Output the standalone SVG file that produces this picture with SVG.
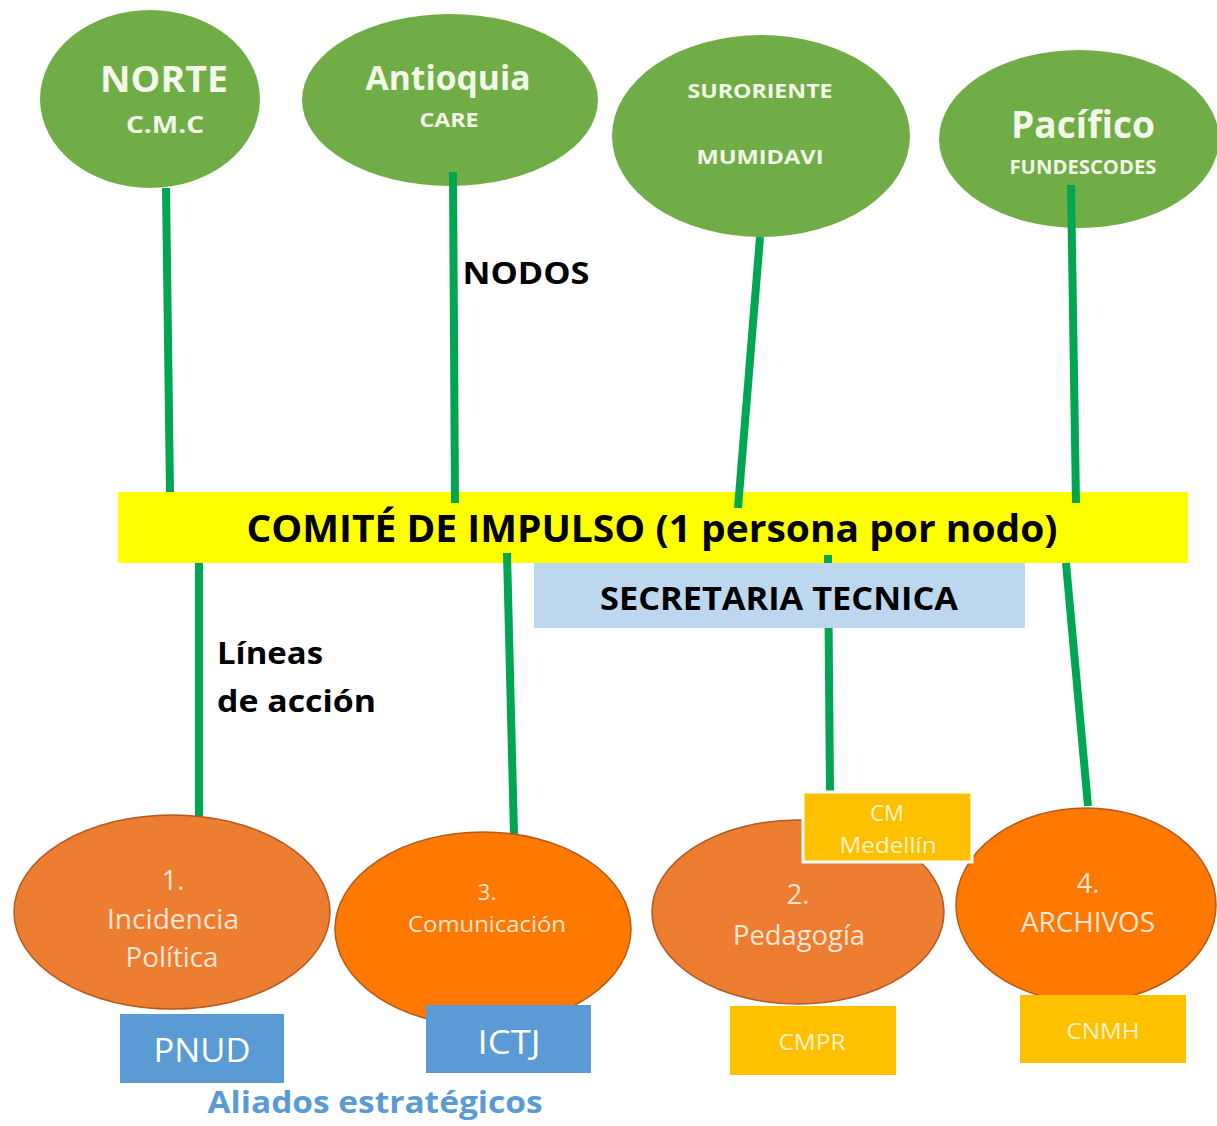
<svg xmlns="http://www.w3.org/2000/svg" width="1217" height="1126" viewBox="0 0 1217 1126">
<defs>
<style>
text{font-family:"Open Sans","Noto Sans","Liberation Sans",sans-serif;text-anchor:middle}
.g{fill:#70ad47}
.gt{fill:#f2f9e8;font-weight:bold}
.con{stroke:#00a651;stroke-width:8;fill:none}
.o1{fill:#ed7d31;stroke:#b35a1f;stroke-width:1.5}
.o2{fill:#ff7800;stroke:#b35a1f;stroke-width:1.5}
.ot{fill:#fbe5d6}
.bl{fill:#5b9bd5}
.ye{fill:#ffc000}
.wt{fill:#ffffff}
.yt{fill:#fff2cc}
.bk{fill:#000000;font-weight:bold}
</style>
</defs>
<rect width="1217" height="1126" fill="#ffffff"/>

<g id="norte">
<ellipse class="g" cx="150" cy="99" rx="110" ry="89"/>
<text class="gt" x="164" y="92" font-size="36" textLength="128" lengthAdjust="spacingAndGlyphs">NORTE</text>
<text class="gt" x="165" y="133" font-size="24" textLength="78" lengthAdjust="spacingAndGlyphs">C.M.C</text>
</g>
<g id="antioquia">
<ellipse class="g" cx="450" cy="100" rx="148" ry="86"/>
<text class="gt" x="448" y="90" font-size="34" textLength="165" lengthAdjust="spacingAndGlyphs">Antioquia</text>
<text class="gt" x="449" y="127" font-size="20" textLength="59" lengthAdjust="spacingAndGlyphs">CARE</text>
</g>
<g id="suroriente">
<ellipse class="g" cx="761" cy="136" rx="149" ry="101"/>
<text class="gt" x="760" y="98" font-size="20" textLength="145" lengthAdjust="spacingAndGlyphs">SURORIENTE</text>
<text class="gt" x="760" y="164" font-size="20" textLength="127" lengthAdjust="spacingAndGlyphs">MUMIDAVI</text>
</g>
<g id="pacifico">
<ellipse class="g" cx="1079" cy="139" rx="140" ry="89"/>
<text class="gt" x="1083" y="138" font-size="38" textLength="144" lengthAdjust="spacingAndGlyphs">Pacífico</text>
<text class="gt" x="1083" y="174" font-size="19" textLength="147" lengthAdjust="spacingAndGlyphs">FUNDESCODES</text>
</g>

<g id="nodos-label">
<text class="bk" x="526" y="284" font-size="30" textLength="127" lengthAdjust="spacingAndGlyphs">NODOS</text>
</g>

<g id="comite">
<rect x="118" y="492" width="1070" height="71" fill="#ffff00"/>
<text class="bk" x="652" y="542" font-size="38" textLength="811" lengthAdjust="spacingAndGlyphs">COMITÉ DE IMPULSO (1 persona por nodo)</text>
</g>

<g id="connectors">
<line class="con" x1="166" y1="188" x2="170" y2="492"/>
<line class="con" x1="453" y1="172" x2="455" y2="503"/>
<line class="con" x1="760" y1="237" x2="738" y2="508"/>
<line class="con" x1="1071" y1="185" x2="1076" y2="503"/>
<line class="con" x1="199" y1="563" x2="199" y2="817"/>
<line class="con" x1="507" y1="553" x2="514" y2="835"/>
<line class="con" x1="828" y1="555" x2="830" y2="792"/>
<line class="con" x1="1066" y1="563" x2="1088" y2="806"/>
</g>

<g id="secretaria">
<rect x="534" y="563" width="491" height="65" fill="#bdd7ee"/>
<text class="bk" x="779" y="610" font-size="32" textLength="358" lengthAdjust="spacingAndGlyphs">SECRETARIA TECNICA</text>
</g>

<g id="lineas-label">
<text class="bk" x="217" y="664" font-size="30" style="text-anchor:start" textLength="106" lengthAdjust="spacingAndGlyphs">Líneas</text>
<text class="bk" x="217" y="712" font-size="30" style="text-anchor:start" textLength="159" lengthAdjust="spacingAndGlyphs">de acción</text>
</g>

<g id="incidencia">
<ellipse class="o1" cx="172" cy="912" rx="158" ry="97"/>
<text class="ot" x="173" y="890" font-size="27">1.</text>
<text class="ot" x="173" y="929" font-size="27" textLength="132" lengthAdjust="spacingAndGlyphs">Incidencia</text>
<text class="ot" x="172" y="967" font-size="27" textLength="93" lengthAdjust="spacingAndGlyphs">Política</text>
</g>
<g id="comunicacion">
<ellipse class="o2" cx="483" cy="929" rx="148" ry="97"/>
<text class="ot" x="487" y="900" font-size="22">3.</text>
<text class="ot" x="487" y="932" font-size="22" textLength="158" lengthAdjust="spacingAndGlyphs">Comunicación</text>
</g>
<g id="pedagogia">
<ellipse class="o1" cx="798" cy="912" rx="146" ry="92"/>
<text class="ot" x="798" y="904" font-size="27">2.</text>
<text class="ot" x="799" y="945" font-size="27" textLength="132" lengthAdjust="spacingAndGlyphs">Pedagogía</text>
</g>
<g id="archivos">
<ellipse class="o2" cx="1086" cy="905" rx="130" ry="97"/>
<text class="ot" x="1088" y="893" font-size="27">4.</text>
<text class="ot" x="1088" y="932" font-size="27" textLength="134" lengthAdjust="spacingAndGlyphs">ARCHIVOS</text>
</g>

<g id="cm-medellin">
<rect class="ye" x="803" y="792" width="169" height="70" stroke="#ffffff" stroke-width="3"/>
<text class="yt" x="887" y="821" font-size="22">CM</text>
<text class="yt" x="888" y="853" font-size="22" textLength="97" lengthAdjust="spacingAndGlyphs">Medellín</text>
</g>

<g id="pnud">
<rect class="bl" x="120" y="1014" width="164" height="69"/>
<text class="wt" x="202" y="1062" font-size="32" textLength="97" lengthAdjust="spacingAndGlyphs">PNUD</text>
</g>
<g id="ictj">
<rect class="bl" x="426" y="1005" width="165" height="68"/>
<text class="wt" x="509" y="1054" font-size="32" textLength="63" lengthAdjust="spacingAndGlyphs">ICTJ</text>
</g>
<g id="cmpr">
<rect class="ye" x="730" y="1006" width="166" height="69"/>
<text class="yt" x="812" y="1050" font-size="22" textLength="67" lengthAdjust="spacingAndGlyphs">CMPR</text>
</g>
<g id="cnmh">
<rect class="ye" x="1020" y="995" width="166" height="68"/>
<text class="yt" x="1103" y="1039" font-size="22" textLength="73" lengthAdjust="spacingAndGlyphs">CNMH</text>
</g>

<g id="aliados-label">
<text x="375" y="1113" font-size="31" font-weight="bold" fill="#5b9bd5" textLength="335" lengthAdjust="spacingAndGlyphs">Aliados estratégicos</text>
</g>
</svg>
